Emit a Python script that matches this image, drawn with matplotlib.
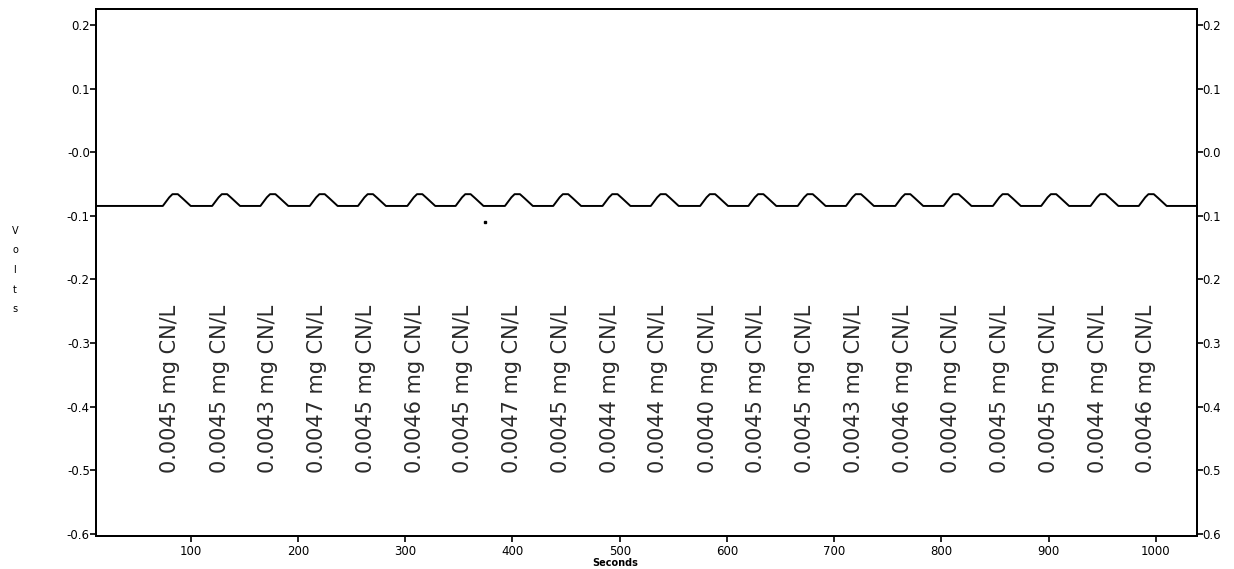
import matplotlib
matplotlib.use('Agg')
import matplotlib.pyplot as plt

# peak times (s) of the recorded trace
peak_times = [86, 132, 177, 223, 268, 314, 359, 405, 450, 496, 541,
              587, 632, 678, 723, 769, 814, 860, 905, 951, 996]
peak_level = -0.066
base_level = -0.0845
start_time = 12
end_time = 1038

# concentration labels
label_times = [81, 127, 172, 218, 263, 309, 354, 400, 445, 491, 536,
               582, 627, 673, 718, 764, 809, 855, 900, 946, 991]
conc = [0.0045, 0.0045, 0.0043, 0.0047, 0.0045, 0.0046, 0.0045, 0.0047,
        0.0045, 0.0044, 0.0044, 0.0040, 0.0045, 0.0045, 0.0043, 0.0046,
        0.0040, 0.0045, 0.0045, 0.0044, 0.0046]

stray_x = [374]
stray_y = [-0.109]

yticks = [0.2, 0.1, 0.0, -0.1, -0.2, -0.3, -0.4, -0.5, -0.6]
left_labels = ['0.2', '0.1', '-0.0', '-0.1', '-0.2', '-0.3', '-0.4', '-0.5', '-0.6']
right_labels = ['0.2', '0.1', '0.0', '0.1', '0.2', '0.3', '0.4', '0.5', '0.6']
xticks = [100, 200, 300, 400, 500, 600, 700, 800, 900, 1000]

# build the trace
t = [start_time]
v = [base_level]
for p in peak_times:
    t += [p - 12, p - 6, p - 3, p + 2, p + 6, p + 14]
    v += [base_level, -0.071, peak_level, peak_level, -0.072, base_level]
t.append(end_time)
v.append(base_level)

fig = plt.figure(figsize=(12.34, 5.69), dpi=100)
ax = fig.add_axes([96 / 1234, 1 - 535.7 / 569, (1196.7 - 96) / 1234, (535.7 - 9) / 569])

ax.plot(t, v, color='black', lw=1.4)
ax.plot(stray_x, stray_y, 's', color='black', ms=1.5)

for x, c in zip(label_times, conc):
    ax.text(x, -0.372, f'{c:.4f} mg CN/L', rotation=90, ha='center', va='center',
            fontsize=15, color='#2a2a2a')

ax.set_xlim(11.7, 1038)
ax.set_ylim(-0.6027, 0.225)

ax.set_xticks(xticks)
ax.set_xticklabels([str(x) for x in xticks], fontsize=8.5)
ax.set_yticks(yticks)
ax.set_yticklabels(left_labels, fontsize=8.5)
ax.tick_params(axis='both', direction='out', length=4, width=1.2, pad=0.5)
ax.tick_params(axis='x', pad=3)

ax2 = ax.twinx()
ax2.set_ylim(ax.get_ylim())
ax2.set_yticks(yticks)
ax2.set_yticklabels(right_labels, fontsize=8.5)
ax2.tick_params(axis='y', direction='out', length=4, width=1.2, pad=0)

for a in (ax, ax2):
    for s in a.spines.values():
        s.set_linewidth(1.4)

fig.text(615 / 1234, 1 - 563 / 569, 'Seconds', ha='center', va='center',
         fontsize=7, fontweight='bold')
fig.text(15 / 1234, 1 - 270 / 569, 'V\no\nl\nt\ns', ha='center', va='center',
         fontsize=7, linespacing=2.2, multialignment='center')

fig.savefig('out.png', dpi=100)
